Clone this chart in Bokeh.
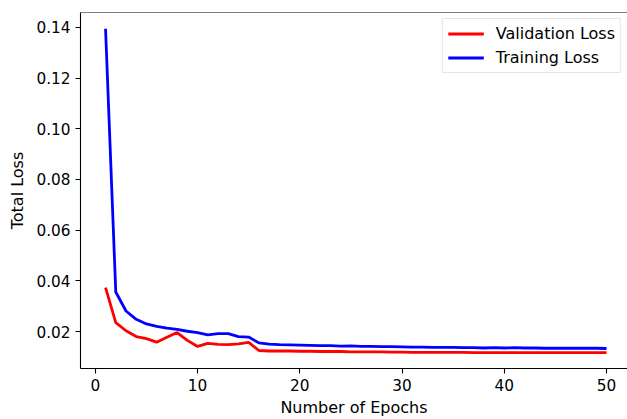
from bokeh.plotting import figure
from bokeh.models import Range1d, FixedTicker, NumeralTickFormatter, Span, Legend, LegendItem
from bokeh.embed import file_html
from bokeh.resources import INLINE

epochs = list(range(1, 51))

training_loss = [0.1395, 0.0356, 0.0281, 0.0248, 0.0230, 0.0220, 0.0213, 0.0208, 0.0201, 0.0196,
                 0.0187, 0.0192, 0.0192, 0.0180, 0.0178, 0.0155, 0.0150, 0.0148, 0.0147, 0.0146,
                 0.0145, 0.0144, 0.0144, 0.0142, 0.0143, 0.0141, 0.0141, 0.0140, 0.0140, 0.0139,
                 0.0138, 0.0138, 0.0137, 0.0137, 0.0137, 0.0136, 0.0136, 0.0135, 0.0136, 0.0135,
                 0.0136, 0.0135, 0.0135, 0.0134, 0.0134, 0.0134, 0.0134, 0.0134, 0.0134, 0.0133]

validation_loss = [0.0373, 0.0235, 0.0203, 0.0180, 0.0172, 0.0158, 0.0177, 0.0196, 0.0165, 0.0141,
                   0.0153, 0.0149, 0.0148, 0.0151, 0.0157, 0.0125, 0.0123, 0.0123, 0.0123, 0.0122,
                   0.0122, 0.0121, 0.0121, 0.0121, 0.0120, 0.0120, 0.0120, 0.0120, 0.0119, 0.0119,
                   0.0118, 0.0118, 0.0118, 0.0118, 0.0118, 0.0118, 0.0117, 0.0117, 0.0117, 0.0117,
                   0.0117, 0.0117, 0.0117, 0.0117, 0.0117, 0.0117, 0.0117, 0.0117, 0.0117, 0.0117]

x_ticks = [0, 10, 20, 30, 40, 50]
y_ticks = [0.02, 0.04, 0.06, 0.08, 0.10, 0.12, 0.14]

FONT = "DejaVu Sans"
TICK_FS = "15.3px"
LABEL_FS = "16px"

p = figure(width=627, height=419, output_backend="svg", toolbar_location=None,
           x_range=Range1d(-1.45, 52.05), y_range=Range1d(0.0054, 0.1459),
           min_border_left=80, min_border_right=0, min_border_top=12, min_border_bottom=51)
p.outline_line_color = None
p.xgrid.visible = False
p.ygrid.visible = False
p.background_fill_color = "white"
p.border_fill_color = "white"

r_val = p.line(epochs, validation_loss, line_color="#ff0000", line_width=2.8)
r_tr = p.line(epochs, training_loss, line_color="#0000ff", line_width=2.8)

top = Span(location=0.1459, dimension="width", line_color="black", line_width=1.1)
p.add_layout(top)

for ax in (p.xaxis[0], p.yaxis[0]):
    ax.axis_line_color = "black"
    ax.axis_line_width = 1.1
    ax.major_tick_line_color = "black"
    ax.major_tick_line_width = 1.1
    ax.major_tick_in = 0
    ax.major_tick_out = 5
    ax.minor_tick_line_color = None
    ax.major_label_text_font = FONT
    ax.major_label_text_font_size = TICK_FS
    ax.major_label_text_color = "black"
    ax.axis_label_text_font = FONT
    ax.axis_label_text_font_size = LABEL_FS
    ax.axis_label_text_font_style = "normal"
    ax.axis_label_text_color = "black"
    ax.major_label_standoff = 5

p.xaxis[0].ticker = FixedTicker(ticks=x_ticks)
p.yaxis[0].ticker = FixedTicker(ticks=y_ticks)
p.yaxis[0].formatter = NumeralTickFormatter(format="0.00")
p.xaxis[0].axis_label = "Number of Epochs"
p.yaxis[0].axis_label = "Total Loss"
p.xaxis[0].axis_label_standoff = 4
p.yaxis[0].axis_label_standoff = 6

legend = Legend(items=[LegendItem(label="Validation Loss", renderers=[r_val]),
                       LegendItem(label="Training Loss", renderers=[r_tr])],
                location="top_right")
legend.margin = 6
legend.padding = 5
legend.spacing = 5
legend.glyph_width = 36
legend.glyph_height = 19
legend.label_height = 19
legend.label_standoff = 12
legend.label_text_font = FONT
legend.label_text_font_size = LABEL_FS
legend.label_text_color = "black"
legend.border_line_color = "#cccccc"
legend.border_line_width = 1
legend.background_fill_alpha = 0.8
p.add_layout(legend)

open("out.html", "w").write(file_html(p, INLINE))
